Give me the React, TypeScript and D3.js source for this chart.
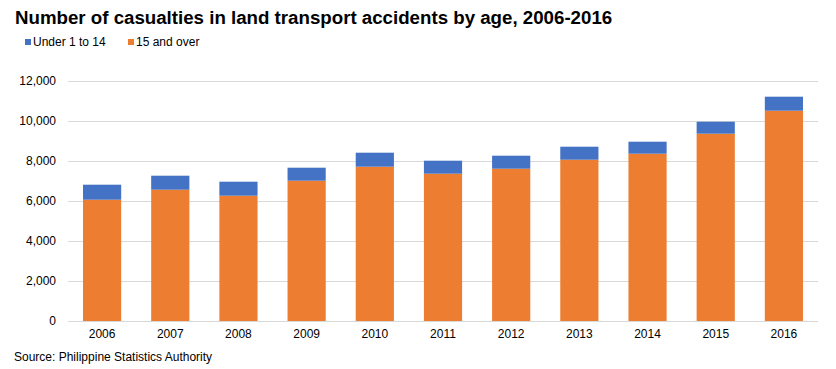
import { useRef, useEffect } from 'react';
import * as d3 from 'd3';

const years = ['2006', '2007', '2008', '2009', '2010', '2011', '2012', '2013', '2014', '2015', '2016'];
const under14 = [750, 700, 700, 650, 700, 650, 650, 650, 600, 600, 700];
const over15 = [6065, 6565, 6265, 7015, 7715, 7365, 7615, 8065, 8365, 9365, 10515];
const yTicks = [0, 2000, 4000, 6000, 8000, 10000, 12000];
const seriesNames = ['15 and over', 'Under 1 to 14'];
const colors = { '15 and over': '#ED7D31', 'Under 1 to 14': '#4472C4' };

const App = () => {
  const svgRef = useRef<SVGSVGElement>(null);

  useEffect(() => {
    if (!svgRef.current) return;
    const width = 836;
    const height = 369;
    const margin = { top: 81, right: 18, bottom: 48, left: 68 };
    const font = 'Liberation Sans, Arial, sans-serif';

    const svg = d3.select(svgRef.current);
    svg.selectAll('*').remove();

    const rows = years.map((y, i) => ({ year: y, '15 and over': over15[i], 'Under 1 to 14': under14[i] }));
    const stacked = d3.stack<any>().keys(seriesNames)(rows);

    const x = d3.scaleBand()
      .domain(years)
      .range([margin.left, width - margin.right])
      .paddingInner(0.44)
      .paddingOuter(0.22);

    const y = d3.scaleLinear()
      .domain([0, 12000])
      .range([height - margin.bottom, margin.top]);

    // grid
    svg.append('g')
      .selectAll('line')
      .data(yTicks)
      .join('line')
      .attr('x1', margin.left)
      .attr('x2', width - margin.right)
      .attr('y1', d => Math.round(y(d)) + 0.5)
      .attr('y2', d => Math.round(y(d)) + 0.5)
      .attr('stroke', '#d9d9d9')
      .attr('stroke-width', 1);

    svg.append('g')
      .selectAll('g')
      .data(stacked)
      .join('g')
      .attr('fill', d => colors[d.key as keyof typeof colors])
      .selectAll('rect')
      .data(d => d)
      .join('rect')
      .attr('x', d => x(d.data.year)!)
      .attr('width', x.bandwidth())
      .attr('y', d => y(d[1]))
      .attr('height', d => y(d[0]) - y(d[1]));

    // y labels
    svg.append('g')
      .selectAll('text')
      .data(yTicks)
      .join('text')
      .attr('x', 56)
      .attr('y', d => y(d))
      .attr('dy', '0.35em')
      .attr('text-anchor', 'end')
      .attr('font-family', font)
      .attr('font-size', 12)
      .attr('fill', '#000')
      .text(d => d3.format(',')(d));

    // x labels
    svg.append('g')
      .selectAll('text')
      .data(years)
      .join('text')
      .attr('x', d => x(d)! + x.bandwidth() / 2)
      .attr('y', 338)
      .attr('text-anchor', 'middle')
      .attr('font-family', font)
      .attr('font-size', 12)
      .attr('fill', '#000')
      .text(d => d);

    svg.append('text')
      .attr('x', 15)
      .attr('y', 24)
      .attr('font-family', font)
      .attr('font-size', 18.7)
      .attr('font-weight', 'bold')
      .attr('fill', '#000')
      .text('Number of casualties in land transport accidents by age, 2006-2016');

    const legend = [
      { name: 'Under 1 to 14', x: 25 },
      { name: '15 and over', x: 128 },
    ];
    const lg = svg.append('g').selectAll('g').data(legend).join('g');
    lg.append('rect')
      .attr('x', d => d.x)
      .attr('y', 39)
      .attr('width', 6)
      .attr('height', 6)
      .attr('fill', d => colors[d.name as keyof typeof colors]);
    lg.append('text')
      .attr('x', d => d.x + 8)
      .attr('y', 46)
      .attr('font-family', font)
      .attr('font-size', 12)
      .attr('fill', '#000')
      .text(d => d.name);

    svg.append('text')
      .attr('x', 14)
      .attr('y', 361)
      .attr('font-family', font)
      .attr('font-size', 12)
      .attr('fill', '#000')
      .text('Source: Philippine Statistics Authority');
  }, []);

  return (
    <svg
      ref={svgRef}
      width={836}
      height={369}
      style={{ position: 'absolute', left: 0, top: 0, background: '#fff' }}
    />
  );
};

export default App;
